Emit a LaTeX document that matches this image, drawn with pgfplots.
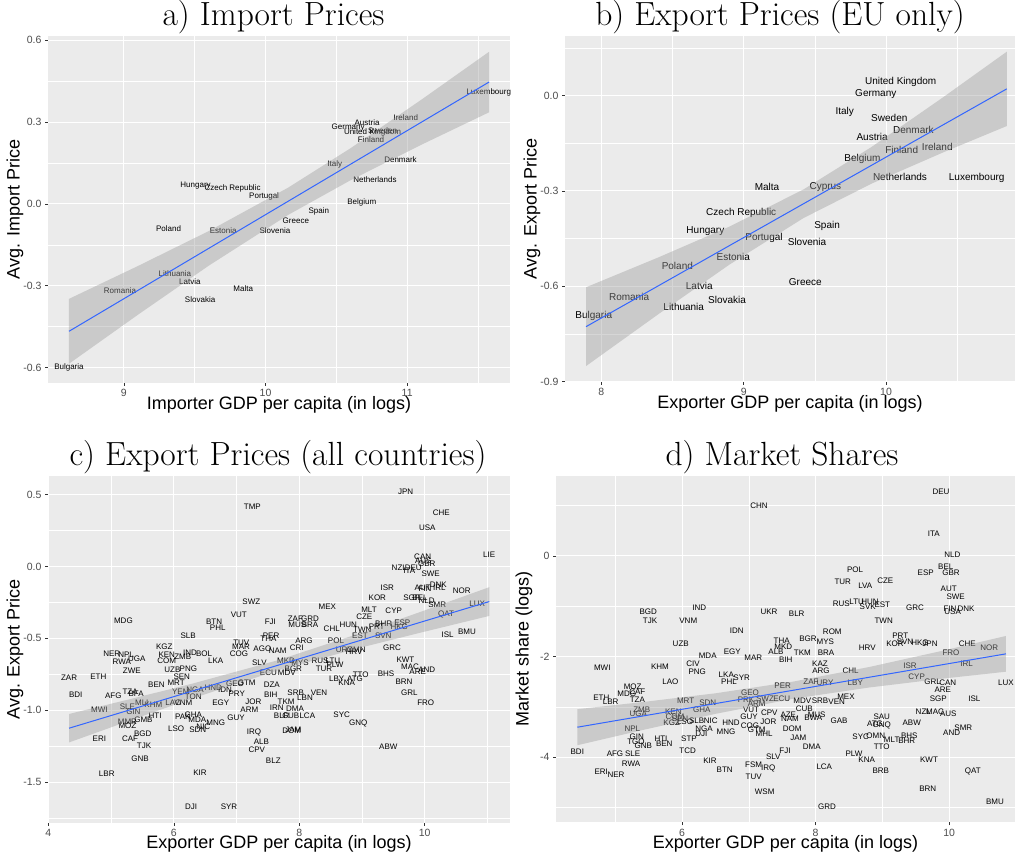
\documentclass[border=0pt]{standalone}
\usepackage{pgfplots}
\pgfplotsset{compat=1.18}
\usepackage{fontspec}
\setsansfont{Liberation Sans}

\definecolor{panelbg}{HTML}{EBEBEB}
\definecolor{ticktext}{HTML}{4D4D4D}
\definecolor{tickline}{HTML}{333333}
\definecolor{fitline}{HTML}{3366FF}
\definecolor{bandfill}{HTML}{999999}

\pgfplotsset{
  gg/.style={
    scale only axis,
    anchor=south west,
    axis background/.style={fill=panelbg},
    axis line style={draw=none},
    tick align=outside,
    tick pos=left,
    major tick length=3pt,
    minor tick length=0pt,
    tick style={color=tickline, line width=0.5pt},
    grid=both,
    major grid style={white, line width=1pt},
    minor grid style={white, line width=0.5pt},
    ticklabel style={font=\sffamily\fontsize{10.5}{12}\selectfont, text=ticktext},
    /pgf/number format/assume math mode=true,
    label style={font=\sffamily\fontsize{18}{20}\selectfont, text=black},
    xlabel style={at={(axis description cs:0.5,0)}, anchor=center, yshift=-22pt},
    clip marker paths=true,
  },
  onedec/.style={yticklabel style={/pgf/number format/.cd, fixed, fixed zerofill, precision=1}},
  lbl/.style={only marks, mark=none, nodes near coords, point meta=explicit symbolic,
    nodes near coords align={anchor=center},
    every node near coord/.append style={anchor=center, inner sep=0pt,
      font=\sffamily\fontsize{#1}{#1}\selectfont, text=black}},
  lbl/.default=8,
  band/.style={draw=none, fill=bandfill, fill opacity=0.4},
  fit/.style={color=fitline, line width=1pt, mark=none},
}

\begin{document}
\begin{tikzpicture}[x=1pt,y=1pt]
\path[use as bounding box] (0,0) rectangle (1019,857);

\node[font=\fontsize{33.5}{36}\selectfont] at (273.5,840) {a) Import Prices};
\node[font=\fontsize{33.5}{36}\selectfont] at (780,840) {b) Export Prices (EU only)};
\node[font=\fontsize{33.5}{36}\selectfont] at (278,400) {c) Export Prices (all countries)};
\node[font=\fontsize{33.5}{36}\selectfont] at (782,400) {d) Market Shares};

% a) import prices against importer income
\begin{axis}[gg, onedec, at={(48pt,474.3pt)}, width=462pt, height=346.7pt,
  xmin=8.464, xmax=11.726, ymin=-0.656, ymax=0.616,
  xtick={9,10,11}, minor xtick={9.5,10.5,11.5},
  ytick={-0.6,-0.3,0,0.3,0.6}, minor ytick={-0.45,-0.15,0.15,0.45},
  xlabel={Importer GDP per capita (in logs)},
  ylabel={Avg. Import Price},
  ylabel style={at={(axis description cs:-0.0714,0.5)}, anchor=center}]
\addplot[lbl] table[col sep=comma, row sep=\\, meta=l] {
x,y,l\\
10.717,0.2985,Austria\\
10.990,0.3147,Ireland\\
10.583,0.2816,Germany\\
10.826,0.2692,Sweden\\
10.755,0.2618,United Kingdom\\
10.745,0.2361,Finland\\
10.489,0.1458,Italy\\
10.953,0.1616,Denmark\\
10.773,0.0892,Netherlands\\
10.680,0.0062,Belgium\\
9.506,0.0661,Hungary\\
9.767,0.0551,Czech Republic\\
9.990,0.0283,Portugal\\
10.376,-0.0283,Spain\\
10.214,-0.0624,Greece\\
10.066,-0.0980,Slovenia\\
9.701,-0.0966,Estonia\\
9.315,-0.0918,Poland\\
9.360,-0.2559,Lithuania\\
9.466,-0.2853,Latvia\\
8.972,-0.3184,Romania\\
9.842,-0.3096,Malta\\
9.538,-0.3499,Slovakia\\
8.612,-0.5985,Bulgaria\\
11.576,0.4087,Luxembourg\\
};
\addplot[band] coordinates {(8.612,-0.3485) (9.1,-0.2277) (9.6,-0.0995) (10.159,0.0594)
  (10.6,0.2041) (11.1,0.3822) (11.578,0.558) (11.578,0.336) (11.1,0.2170) (10.6,0.0867)
  (10.159,-0.0406) (9.6,-0.2263) (9.1,-0.4063) (8.612,-0.5865)};
\addplot[fit] coordinates {(8.612,-0.4675) (11.578,0.447)};
\end{axis}

% b) export prices of EU members
\begin{axis}[gg, onedec, at={(565pt,475.2pt)}, width=450pt, height=345.8pt,
  xmin=7.745, xmax=10.906, ymin=-0.901, ymax=0.1876,
  xtick={8,9,10}, minor xtick={8.5,9.5,10.5},
  ytick={-0.9,-0.6,-0.3,0}, minor ytick={-0.75,-0.45,-0.15,0.15},
  xlabel={Exporter GDP per capita (in logs)},
  ylabel={Avg. Export Price},
  ylabel style={at={(axis description cs:-0.0733,0.5)}, anchor=center}]
\addplot[lbl=10] table[col sep=comma, row sep=\\, meta=l] {
x,y,l\\
10.103,0.0431,United Kingdom\\
9.928,0.0044,Germany\\
9.710,-0.0513,Italy\\
10.023,-0.0702,Sweden\\
10.192,-0.1071,Denmark\\
9.902,-0.1301,Austria\\
10.110,-0.1710,Finland\\
10.360,-0.1615,Ireland\\
9.834,-0.2003,Belgium\\
10.098,-0.2570,Netherlands\\
10.637,-0.2582,Luxembourg\\
9.574,-0.2885,Cyprus\\
9.164,-0.2875,Malta\\
8.983,-0.3694,Czech Republic\\
8.731,-0.4251,Hungary\\
9.586,-0.4113,Spain\\
9.143,-0.4481,Portugal\\
9.445,-0.4607,Slovenia\\
8.927,-0.5079,Estonia\\
8.534,-0.5353,Poland\\
8.688,-0.5983,Latvia\\
9.433,-0.5857,Greece\\
8.195,-0.6339,Romania\\
8.883,-0.6433,Slovakia\\
8.579,-0.6644,Lithuania\\
7.947,-0.6947,Bulgaria\\
};
\addplot[band] coordinates {(7.893,-0.6034) (8.4,-0.5096) (8.9,-0.4125) (9.42,-0.2956)
  (9.9,-0.1612) (10.4,-0.0057) (10.848,0.1381) (10.848,-0.0959) (10.4,-0.1791)
  (9.9,-0.2768) (9.42,-0.3856) (8.9,-0.5321) (8.4,-0.6884) (7.893,-0.8514)};
\addplot[fit] coordinates {(7.893,-0.7274) (10.848,0.0211)};
\end{axis}

% c) export prices of all exporters
\begin{axis}[gg, onedec, at={(48pt,34.3pt)}, width=462pt, height=346.7pt,
  xmin=3.995, xmax=11.36, ymin=-1.783, ymax=0.630,
  xtick={4,6,8,10}, minor xtick={5,7,9,11},
  ytick={-1.5,-1,-0.5,0,0.5}, minor ytick={-1.75,-1.25,-0.75,-0.25,0.25},
  xlabel={Exporter GDP per capita (in logs)},
  xlabel style={yshift=1pt},
  ylabel={Avg. Export Price},
  ylabel style={at={(axis description cs:-0.0714,0.5)}, anchor=center}]
\addplot[lbl] table[col sep=comma, row sep=\\, meta=l] {
x,y,l\\
7.253,0.4137,TMP\\
9.697,0.5202,JPN\\
10.264,0.3740,CHE\\
10.041,0.2674,USA\\
11.029,0.0815,LIE\\
9.968,0.0655,CAN\\
9.978,0.0418,AUS\\
10.032,0.0167,GBR\\
9.595,-0.0091,NZL\\
9.818,-0.0111,DEU\\
9.754,-0.0299,ITA\\
10.096,-0.0508,SWE\\
9.404,-0.1483,ISR\\
10.217,-0.1295,DNK\\
9.968,-0.1504,AUT\\
10.005,-0.1532,FIN\\
10.233,-0.1462,IRL\\
10.590,-0.1713,NOR\\
9.245,-0.2201,KOR\\
9.793,-0.2180,SGP\\
9.925,-0.2159,BEL\\
10.032,-0.2389,NLD\\
10.201,-0.2646,SMR\\
10.838,-0.2618,LUX\\
8.448,-0.2827,MEX\\
9.112,-0.3036,MLT\\
9.506,-0.3064,CYP\\
10.339,-0.3364,QAT\\
9.037,-0.3482,CZE\\
7.938,-0.3621,ZAF\\
8.172,-0.3663,GRD\\
7.970,-0.4081,MUS\\
8.172,-0.4081,BRA\\
8.518,-0.4318,CHL\\
8.782,-0.4060,HUN\\
9.346,-0.3969,BHR\\
9.643,-0.3900,ESP\\
9.006,-0.4429,TWN\\
9.235,-0.4199,PRT\\
9.595,-0.4220,HKG\\
9.340,-0.4805,SVN\\
8.969,-0.4847,EST\\
10.366,-0.4756,ISL\\
10.674,-0.4547,BMU\\
8.076,-0.5153,ARG\\
8.586,-0.5153,POL\\
7.960,-0.5682,CRI\\
9.479,-0.5662,GRC\\
8.910,-0.5801,OMN\\
9.694,-0.6518,KWT\\
5.850,-0.5571,KGZ\\
5.012,-0.6079,NER\\
5.240,-0.6128,NPL\\
5.410,-0.6428,UGA\\
5.171,-0.6657,RWA\\
5.888,-0.6128,KEN\\
6.260,-0.6031,IND\\
6.483,-0.6100,BOL\\
5.888,-0.6546,COM\\
6.143,-0.6309,ZMB\\
6.669,-0.6588,LKA\\
7.041,-0.6079,COG\\
7.072,-0.5571,MAR\\
7.077,-0.5293,TUV\\
7.412,-0.5731,AGO\\
7.657,-0.5891,NAM\\
7.508,-0.5056,THA\\
7.364,-0.6727,SLV\\
5.197,-0.3781,MDG\\
6.642,-0.3830,BTN\\
6.701,-0.4248,PHL\\
7.539,-0.3872,FJI\\
6.228,-0.4826,SLB\\
7.036,-0.3364,VUT\\
7.237,-0.2458,SWZ\\
7.551,-0.4826,PER\\
8.331,-0.6588,RUS\\
8.538,-0.6567,LTU\\
8.718,-0.5801,URY\\
8.873,-0.5940,HRV\\
8.012,-0.6713,MYS\\
7.790,-0.6574,MKD\\
9.766,-0.6964,MAC\\
10.032,-0.7194,AND\\
9.888,-0.7333,ARE\\
5.331,-0.7284,ZWE\\
5.978,-0.7194,UZB\\
6.233,-0.7145,PNG\\
6.127,-0.7660,SEN\\
4.331,-0.7751,ZAR\\
4.798,-0.7681,ETH\\
5.723,-0.8238,BEN\\
6.037,-0.8120,MRT\\
7.508,-0.7423,ECU\\
7.801,-0.7382,MDV\\
7.906,-0.7124,BGR\\
8.395,-0.7145,TUR\\
8.570,-0.6845,PLW\\
8.598,-0.7799,LBY\\
8.889,-0.7841,ATG\\
8.757,-0.8078,KNA\\
8.980,-0.7521,TTO\\
9.383,-0.7472,BHS\\
9.670,-0.8029,BRN\\
9.754,-0.8795,GRL\\
10.016,-0.9471,FRO\\
4.438,-0.8914,BDI\\
5.037,-0.8983,AFG\\
5.304,-0.8705,TZA\\
5.399,-0.8886,BFA\\
6.112,-0.8747,YEM\\
6.339,-0.8607,NGA\\
6.631,-0.8426,HND\\
6.818,-0.8607,IDN\\
7.163,-0.8120,GTM\\
6.977,-0.8189,GEO\\
7.004,-0.8865,PRY\\
7.562,-0.8259,DZA\\
7.546,-0.8955,BIH\\
7.944,-0.8816,SRB\\
8.092,-0.9122,LBN\\
8.315,-0.8816,VEN\\
6.749,-0.9471,EGY\\
7.268,-0.9443,JOR\\
7.790,-0.9443,TKM\\
4.814,-0.9979,MWI\\
5.261,-0.9749,SLE\\
5.356,-1.0097,GIN\\
5.490,-0.9471,MLI\\
5.675,-0.9652,KHM\\
5.994,-0.9513,LAO\\
6.153,-0.9513,VNM\\
6.312,-0.9095,TON\\
7.205,-0.9979,ARM\\
7.641,-0.9861,IRN\\
7.933,-0.9909,DMA\\
5.702,-1.0376,HTI\\
6.143,-1.0487,PAK\\
6.312,-1.0327,GHA\\
6.376,-1.0675,MDA\\
6.669,-1.0864,MNG\\
6.993,-1.0515,GUY\\
7.721,-1.0418,BLR\\
7.864,-1.0418,CUB\\
8.129,-1.0418,LCA\\
8.677,-1.0327,SYC\\
8.942,-1.0905,GNQ\\
5.261,-1.0794,MMR\\
5.261,-1.1093,MOZ\\
5.516,-1.0675,GMB\\
6.037,-1.1302,LSO\\
6.382,-1.1372,SDN\\
6.472,-1.1184,NIC\\
5.506,-1.1671,BGD\\
4.814,-1.2019,ERI\\
5.304,-1.2019,CAF\\
5.527,-1.2465,TJK\\
7.280,-1.1560,IRQ\\
7.396,-1.2208,ALB\\
7.323,-1.2765,CPV\\
7.880,-1.1421,DOM\\
7.906,-1.1337,JAM\\
9.420,-1.2535,ABW\\
7.587,-1.3531,BLZ\\
5.463,-1.3391,GNB\\
4.932,-1.4415,LBR\\
6.419,-1.4346,KIR\\
6.276,-1.6713,DJI\\
6.881,-1.6713,SYR\\
};
\addplot[band] coordinates {(4.331,-1.0263) (5.3,-0.9234) (6.3,-0.8147) (7.661,-0.6521)
  (9.0,-0.4598) (10.0,-0.3054) (11.03,-0.1437) (11.03,-0.3437) (10.0,-0.4532)
  (9.0,-0.5620) (7.661,-0.7221) (6.3,-0.9177) (5.3,-1.0722) (4.331,-1.2243)};
\addplot[fit] coordinates {(4.331,-1.1253) (11.03,-0.2437)};
\end{axis}

% d) market shares of all exporters
\begin{axis}[gg, at={(556pt,34.6pt)}, width=459pt, height=346.4pt,
  xmin=4.114, xmax=10.985, ymin=-5.297, ymax=1.585,
  xtick={6,8,10}, minor xtick={5,7,9},
  ytick={-4,-2,0}, minor ytick={-5,-3,-1,1},
  xlabel={Exporter GDP per capita (in logs)},
  xlabel style={yshift=1pt},
  ylabel={Market share (logs)},
  ylabel style={at={(axis description cs:-0.0697,0.5)}, anchor=center}]
\addplot[lbl] table[col sep=comma, row sep=\\, meta=l] {
x,y,l\\
7.153,1.0000,CHN\\
5.496,-1.1074,BGD\\
5.521,-1.2982,TJK\\
6.259,-1.0278,IND\\
6.094,-1.2982,VNM\\
7.302,-1.1074,UKR\\
6.819,-1.4851,IDN\\
5.981,-1.7495,UZB\\
6.753,-1.9026,EGY\\
6.385,-1.9821,MDA\\
7.493,-1.6958,THA\\
9.877,1.2724,DEU\\
9.768,0.4374,ITA\\
10.046,0.0258,NLD\\
9.948,-0.2187,BEL\\
9.648,-0.3380,ESP\\
10.027,-0.3320,GBR\\
8.590,-0.2783,POL\\
8.406,-0.5229,TUR\\
8.744,-0.5964,LVA\\
9.043,-0.4970,CZE\\
9.992,-0.6561,AUT\\
10.097,-0.8092,SWE\\
8.385,-0.9603,RUS\\
8.615,-0.9205,LTU\\
8.814,-0.9145,HUN\\
8.780,-1.0080,SVK\\
8.999,-0.9742,EST\\
9.488,-1.0278,GRC\\
10.012,-1.0537,FIN\\
10.251,-1.0537,DNK\\
10.052,-1.1193,USA\\
7.717,-1.1591,BLR\\
9.019,-1.2982,TWN\\
8.250,-1.5110,ROM\\
9.268,-1.5905,PRT\\
9.189,-1.7436,KOR\\
9.338,-1.7098,SVN\\
9.563,-1.7237,HKG\\
9.713,-1.7436,JPN\\
10.271,-1.7555,CHE\\
10.600,-1.8231,NOR\\
10.027,-1.9344,FRO\\
7.886,-1.6561,BGR\\
8.145,-1.7098,MYS\\
8.774,-1.8350,HRV\\
7.516,-1.8032,MKD\\
7.801,-1.9344,TKM\\
8.156,-1.9344,BRA\\
7.067,-2.0219,MAR\\
7.407,-1.9026,ALB\\
7.552,-2.0676,BIH\\
8.066,-2.1471,KAZ\\
8.081,-2.2803,ARG\\
8.525,-2.2923,CHL\\
9.413,-2.1929,ISR\\
10.262,-2.1471,IRL\\
4.807,-2.2267,MWI\\
5.671,-2.2068,KHM\\
6.165,-2.1412,CIV\\
6.229,-2.3122,PNG\\
5.825,-2.5050,LAO\\
6.663,-2.3718,LKA\\
6.704,-2.5110,PHL\\
6.894,-2.4315,SYR\\
7.931,-2.5110,ZAF\\
8.141,-2.5249,URY\\
8.594,-2.5249,LBY\\
9.513,-2.3996,CYP\\
9.753,-2.4990,GRL\\
9.978,-2.5249,CAN\\
10.850,-2.5309,LUX\\
9.903,-2.6641,ARE\\
5.262,-2.6104,MOZ\\
5.172,-2.7436,MDG\\
5.331,-2.7098,CAF\\
5.331,-2.8629,TZA\\
4.792,-2.8172,ETH\\
4.933,-2.9027,LBR\\
7.507,-2.5790,PER\\
7.018,-2.7297,GEO\\
6.958,-2.8629,PRK\\
7.243,-2.8490,SWZ\\
7.493,-2.8490,ECU\\
7.801,-2.8768,MDV\\
8.066,-2.8768,SRB\\
8.316,-2.8967,VEN\\
8.455,-2.8032,MEX\\
9.837,-2.8490,SGP\\
10.376,-2.8490,ISL\\
6.055,-2.8768,MRT\\
6.385,-2.9166,SDN\\
7.118,-2.9484,ARM\\
5.397,-3.0617,ZMB\\
5.346,-3.1412,UGA\\
7.033,-3.0617,VUT\\
7.307,-3.1273,CPV\\
7.831,-3.0358,CUB\\
7.591,-3.1611,AZE\\
8.016,-3.1611,MUS\\
7.617,-3.2347,NAM\\
7.966,-3.2148,BWA\\
7.003,-3.1949,GUY\\
7.292,-3.3062,JOR\\
8.350,-3.2804,GAB\\
8.990,-3.1949,SAU\\
8.889,-3.3460,ATG\\
8.990,-3.3738,GNQ\\
9.612,-3.0955,NZL\\
9.787,-3.0955,MAC\\
9.987,-3.1412,AUS\\
9.439,-3.3141,ABW\\
5.870,-3.0955,KEN\\
5.895,-3.1949,COM\\
5.970,-3.2466,SEN\\
5.846,-3.3261,KGZ\\
6.045,-3.3062,LSO\\
6.295,-3.0617,GHA\\
6.430,-3.2804,NIC\\
6.734,-3.3141,HND\\
6.220,-3.2804,SLB\\
7.018,-3.3738,COG\\
7.118,-3.4593,GTM\\
7.228,-3.5388,MHL\\
7.651,-3.4394,DOM\\
5.256,-3.4394,NPL\\
6.329,-3.4454,NGA\\
6.289,-3.5388,DJI\\
6.659,-3.4991,MNG\\
8.675,-3.5925,SYC\\
8.900,-3.5726,OMN\\
9.139,-3.6580,MLT\\
9.403,-3.5786,BHS\\
9.364,-3.6720,BHR\\
10.037,-3.5189,AND\\
10.211,-3.4195,SMR\\
7.741,-3.6124,JAM\\
8.990,-3.7973,TTO\\
5.322,-3.5925,GIN\\
5.311,-3.6919,TGO\\
5.421,-3.7774,GNB\\
5.686,-3.6441,HTI\\
5.735,-3.7436,BEN\\
6.105,-3.6441,STP\\
6.085,-3.8768,TCD\\
7.942,-3.7913,DMA\\
4.433,-3.8967,BDI\\
4.997,-3.9424,AFG\\
5.262,-3.9424,SLE\\
5.237,-4.1352,RWA\\
7.542,-3.8768,FJI\\
7.367,-3.9901,SLV\\
6.419,-4.0697,KIR\\
8.575,-3.9424,PLW\\
8.765,-4.0557,KNA\\
9.698,-4.0557,KWT\\
4.792,-4.3003,ERI\\
5.012,-4.3600,NER\\
6.639,-4.2546,BTN\\
7.073,-4.1551,FSM\\
7.292,-4.2347,IRQ\\
8.130,-4.1949,LCA\\
8.975,-4.2744,BRB\\
10.352,-4.2943,QAT\\
7.073,-4.3878,TUV\\
7.238,-4.6860,WSM\\
9.678,-4.6323,BRN\\
8.171,-4.9843,GRD\\
10.686,-4.8967,BMU\\
};
\addplot[band] coordinates {(4.433,-3.048) (5.4,-2.9078) (6.5,-2.7322) (7.66,-2.5008)
  (8.8,-2.2105) (9.9,-1.8868) (10.85,-1.593) (10.85,-2.303) (9.9,-2.4410)
  (8.8,-2.6171) (7.66,-2.8408) (6.5,-3.1406) (5.4,-3.4648) (4.433,-3.764)};
\addplot[fit] coordinates {(4.433,-3.406) (10.85,-1.948)};
\end{axis}
\end{tikzpicture}
\end{document}
